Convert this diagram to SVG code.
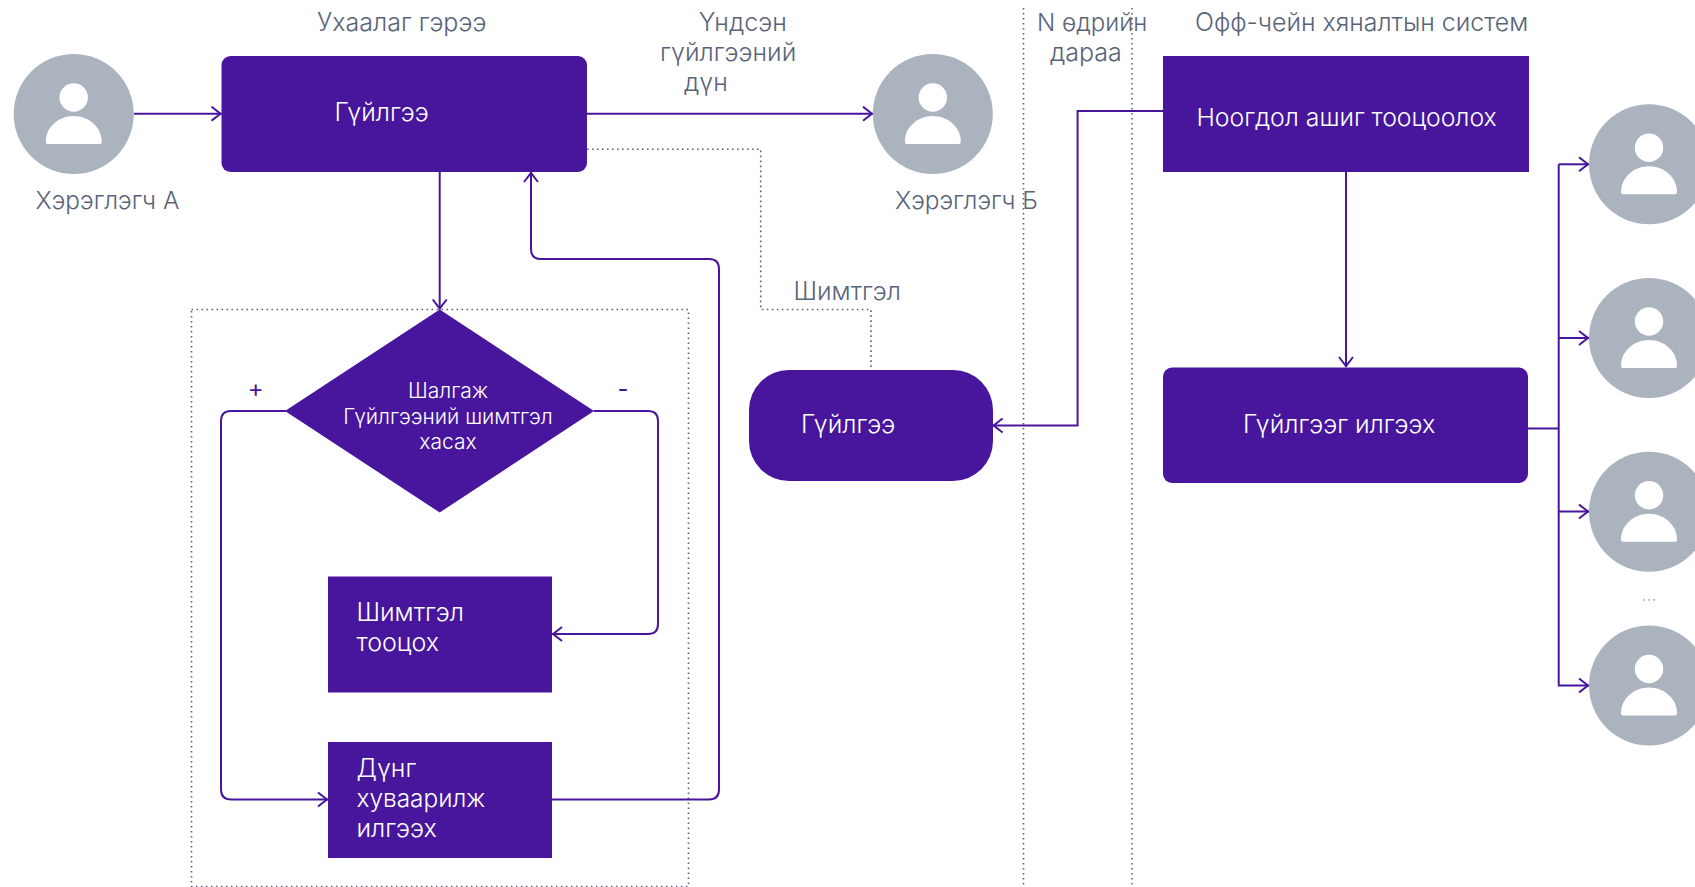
<svg xmlns="http://www.w3.org/2000/svg" width="1695" height="887" viewBox="0 0 1695 887">
<style>
text{font-family:"Inter","Liberation Sans",sans-serif;font-weight:300}
.l{font-size:25px;fill:#596478}
.w{font-size:25px;fill:#fff}
.m{font-size:24.400px}
.d{font-size:21px;fill:#fff;text-anchor:middle}
.n{fill:#47169c}
.c{fill:none;stroke:#47169c;stroke-width:2}
.a{marker-end:url(#ah)}
.o{fill:none;stroke:#596478;stroke-width:1.600;stroke-dasharray:1.600 3.400}
.u{fill:#abb4be}
.i{fill:#fff}
.s{font-size:24px;font-weight:400;fill:#47169c;text-anchor:middle}
</style>
<defs>
<marker id="ah" markerUnits="userSpaceOnUse" markerWidth="14" markerHeight="18" refX="11" refY="8" orient="auto"><path d="M1 1L10 8L1 15" fill="none" stroke="#47169c" stroke-width="2"/></marker>
<g id="person"><circle class="u" r="60"/><circle class="i" cy="-16.500" r="14.200"/><path class="i" d="M-26 30Q-28 30-28 28C-28 13-15 2 0 2S28 13 28 28Q28 30 26 30Z"/></g>
</defs>
<g id="guides">
<rect class="o" x="191.500" y="309.500" width="497" height="577"/>
<path class="o" d="M1023.500 8V885M1132 8V885"/>
</g>
<g id="connectors">
<path class="c a" d="M134 113.700H221.500"/>
<path class="c a" d="M587 113.700H873"/>
<path class="c a" d="M439.700 172V309.500"/>
<path class="c a" d="M286 411H231Q221 411 221 421V789.500Q221 799.500 231 799.500H328"/>
<path class="c a" d="M593.600 411H648Q658 411 658 421V624Q658 634 648 634H552"/>
<path class="c a" d="M552 799.500H709Q719 799.500 719 789.500V269Q719 259 709 259H541Q531 259 531 249V172"/>
<path class="o" d="M587 149.300H760.700V309.500H871V370"/>
<path class="c a" d="M1163 111H1077.600V425.500H992.600"/>
<path class="c a" d="M1346 172V367"/>
<path class="c" d="M1528 428.500H1558.700"/>
<path class="c a" d="M1558.700 164.300H1589"/>
<path class="c a" d="M1558.700 338H1589"/>
<path class="c a" d="M1558.700 511.500H1589"/>
<path class="c a" d="M1558.700 164.300V685.500H1589"/>
</g>
<g id="user-a"><use href="#person" x="73.700" y="114"/><text class="l m" x="35.600" y="208.500">Хэрэглэгч А</text></g>
<g id="user-b"><use href="#person" x="932.800" y="114"/><text class="l m" x="895" y="208.500">Хэрэглэгч Б</text></g>
<g id="main-tx"><rect class="n" x="221.500" y="56" width="365.500" height="116" rx="9"/><text class="w" x="334.500" y="121">Гүйлгээ</text></g>
<g id="check"><path class="n" d="M439.700 309.500L594 411L439.700 512.500L285 411Z"/><text class="d" x="448" y="398">Шалгаж</text><text class="d" x="448" y="423.500">Гүйлгээний шимтгэл</text><text class="d" x="448" y="449">хасах</text></g>
<g id="plus"><text class="s" x="255.700" y="397">+</text></g>
<g id="minus"><text class="s" x="622.900" y="397">-</text></g>
<g id="fee"><rect class="n" x="328" y="576.500" width="224" height="116"/><text class="w" x="356.500" y="621">Шимтгэл</text><text class="w" x="356.500" y="651">тооцох</text></g>
<g id="split"><rect class="n" x="328" y="742" width="224" height="116"/><text class="w" x="356.500" y="777">Дүнг</text><text class="w m" x="356.500" y="807">хуваарилж</text><text class="w" x="356.500" y="837">илгээх</text></g>
<g id="fee-tx"><rect class="n" x="749" y="370" width="244" height="111" rx="40"/><text class="w" x="801" y="432.500">Гүйлгээ</text></g>
<g id="reward"><rect class="n" x="1163" y="56" width="366" height="116"/><text class="w" x="1196.500" y="126" style="font-size:24.800px">Ноогдол ашиг тооцоолох</text></g>
<g id="send"><rect class="n" x="1163" y="367.500" width="365" height="115.500" rx="9"/><text class="w" x="1243" y="432.500">Гүйлгээг илгээх</text></g>
<g id="labels">
<text class="l" x="317" y="31">Ухаалаг гэрээ</text>
<text class="l" x="698.700" y="31">Үндсэн</text>
<text class="l" x="660" y="61">гүйлгээний</text>
<text class="l" x="684" y="91">дүн</text>
<text class="l" x="793.500" y="300">Шимтгэл</text>
<text class="l" style="font-size:24px" x="1037" y="31">N өдрийн</text>
<text class="l" x="1050" y="61">дараа</text>
<text class="l" x="1195" y="31" style="font-size:24.900px">Офф-чейн хяналтын систем</text>
<text x="1649" y="601" font-size="18" text-anchor="middle" fill="#abb4be" font-weight="400">...</text>
</g>
<use id="user-1" href="#person" x="1649" y="164.300"/>
<use id="user-2" href="#person" x="1649" y="338"/>
<use id="user-3" href="#person" x="1649" y="511.700"/>
<use id="user-4" href="#person" x="1649" y="685.500"/>
</svg>
